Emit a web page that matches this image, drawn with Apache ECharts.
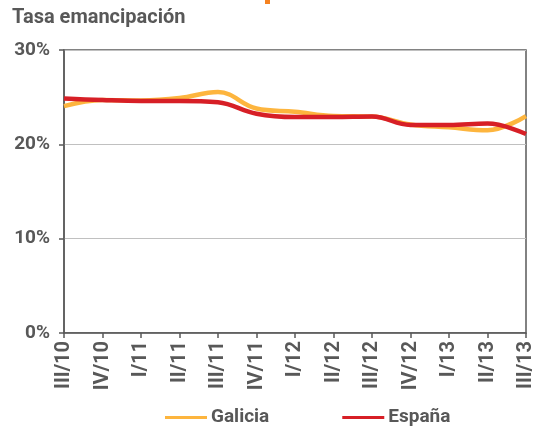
<!DOCTYPE html>
<html><head><meta charset="utf-8">
<script src="https://cdn.jsdelivr.net/npm/echarts@6/dist/echarts.min.js"></script>
<style>html,body{margin:0;padding:0;background:#fff}#c{width:536px;height:430px}</style>
</head><body><div id="c"></div>
<script>
const categories = ['III/10','IV/10','I/11','II/11','III/11','IV/11','I/12','II/12','III/12','IV/12','I/13','II/13','III/13'];
const galicia = [24.05, 24.7, 24.65, 24.9, 25.55, 23.8, 23.45, 23.0, 22.95, 22.1, 21.8, 21.5, 23.0];
const espana  = [24.87, 24.7, 24.6, 24.6, 24.45, 23.25, 22.9, 22.9, 22.95, 22.05, 22.05, 22.2, 21.1];
const yTicks = [0, 10, 20, 30];

const font = 'Roboto';
const txt = '#585858';
const chart = echarts.init(document.getElementById('c'), null, {renderer: 'canvas'});
chart.setOption({
  animation: false,
  textStyle: {fontFamily: font},
  title: {text: 'Tasa emancipación', left: 12, top: 8, padding: 0,
    textStyle: {fontFamily: font, fontWeight: 'bold', fontSize: 20, color: txt}},
  graphic: [{type: 'rect', shape: {x: 265, y: 0, width: 5, height: 4}, style: {fill: '#F58220'}}],
  grid: {left: 64, right: 10, top: 50, bottom: 97, show: true, borderColor: '#5a5a5a', borderWidth: 1.5, containLabel: false},
  legend: {top: 408, left: 165, padding: 0, itemGap: 73, itemWidth: 42, itemHeight: 3,
    icon: 'rect',
    textStyle: {fontFamily: font, fontWeight: 'bold', fontSize: 19, color: txt, padding: [0, 0, 0, -1]},
    data: ['Galicia', 'España']},
  xAxis: {type: 'category', data: categories, boundaryGap: false,
    axisLine: {lineStyle: {color: '#5a5a5a', width: 1.5}},
    axisTick: {show: true, alignWithLabel: true, length: 5, lineStyle: {color: '#5a5a5a', width: 1.5}},
    axisLabel: {rotate: 90, interval: 0, fontFamily: font, fontWeight: 'bold', fontSize: 20, color: txt, margin: 8}},
  yAxis: {type: 'value', min: yTicks[0], max: yTicks[yTicks.length-1], interval: 10,
    axisLine: {show: true, lineStyle: {color: '#5a5a5a', width: 1.5}},
    axisTick: {show: true, length: 5, lineStyle: {color: '#5a5a5a', width: 1.5}},
    splitLine: {lineStyle: {color: '#c0c0c0', width: 1}},
    axisLabel: {formatter: '{value}%', fontFamily: font, fontWeight: 'bold', fontSize: 19, color: txt, margin: 14}},
  series: [
    {name: 'Galicia', type: 'line', data: galicia, smooth: 0.4, symbol: 'none',
      lineStyle: {color: '#FDB53E', width: 4.5}, itemStyle: {color: '#FDB53E'}},
    {name: 'España', type: 'line', data: espana, smooth: 0.4, symbol: 'none',
      lineStyle: {color: '#D71F26', width: 4.5}, itemStyle: {color: '#D71F26'}}
  ]
});
</script></body></html>
